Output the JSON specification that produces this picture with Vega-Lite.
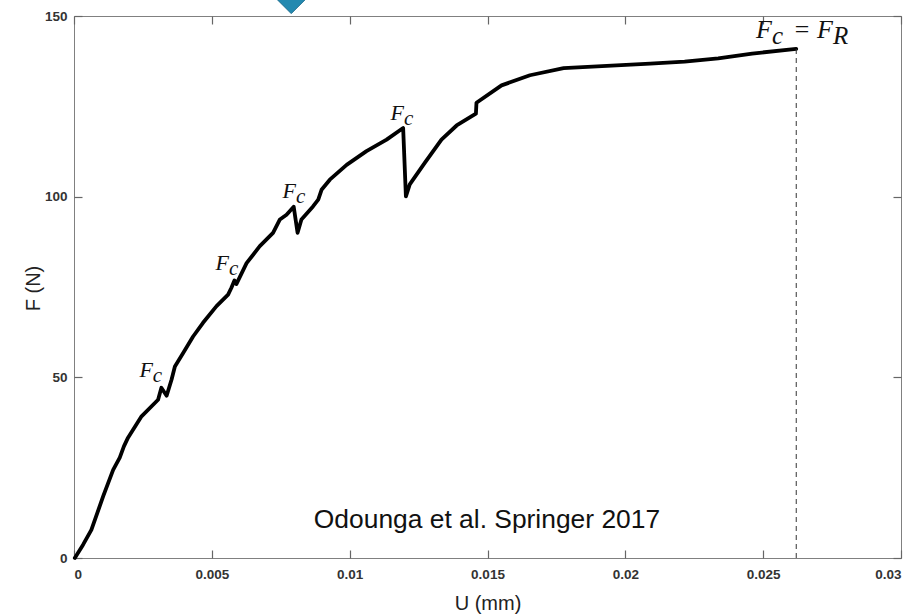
{
  "$schema": "https://vega.github.io/schema/vega-lite/v6.json",
  "width": 827,
  "height": 542,
  "autosize": "none",
  "padding": {"left": 74, "top": 16, "right": 21, "bottom": 57},
  "background": "white",
  "config": {
    "view": {"stroke": "#808080", "strokeWidth": 1},
    "axis": {
      "domainColor": "#808080",
      "tickColor": "#666666",
      "tickWidth": 1.2,
      "tickSize": -8,
      "grid": false,
      "labelFont": "Liberation Sans",
      "labelFontWeight": "bold",
      "labelFontSize": 13.5,
      "labelColor": "#333333",
      "titleFont": "Liberation Sans",
      "titleFontWeight": "normal",
      "titleFontSize": 20,
      "titleColor": "#222222"
    }
  },
  "datasets": {
    "curve": [
      {"u": 0.00003, "f": 0},
      {"u": 0.00033, "f": 3.7},
      {"u": 0.00063, "f": 7.8},
      {"u": 0.00106, "f": 17.1},
      {"u": 0.00142, "f": 24.4},
      {"u": 0.00166, "f": 27.8},
      {"u": 0.00181, "f": 30.9},
      {"u": 0.00196, "f": 33.3},
      {"u": 0.00245, "f": 39.2},
      {"u": 0.00305, "f": 43.8},
      {"u": 0.00317, "f": 47.1},
      {"u": 0.00336, "f": 44.9},
      {"u": 0.00354, "f": 49.4},
      {"u": 0.00366, "f": 53.0},
      {"u": 0.00396, "f": 56.7},
      {"u": 0.00432, "f": 61.3},
      {"u": 0.00468, "f": 65.1},
      {"u": 0.00517, "f": 69.7},
      {"u": 0.00559, "f": 72.9},
      {"u": 0.00571, "f": 74.8},
      {"u": 0.00582, "f": 76.8},
      {"u": 0.00589, "f": 75.8},
      {"u": 0.00626, "f": 81.6},
      {"u": 0.00674, "f": 86.3},
      {"u": 0.00722, "f": 90.0},
      {"u": 0.00747, "f": 93.7},
      {"u": 0.00771, "f": 95.0},
      {"u": 0.00797, "f": 97.2},
      {"u": 0.00811, "f": 90.0},
      {"u": 0.00825, "f": 93.7},
      {"u": 0.00867, "f": 97.3},
      {"u": 0.00886, "f": 99.2},
      {"u": 0.00898, "f": 101.9},
      {"u": 0.00928, "f": 104.7},
      {"u": 0.00989, "f": 108.8},
      {"u": 0.01061, "f": 112.6},
      {"u": 0.01134, "f": 115.8},
      {"u": 0.01194, "f": 119.0},
      {"u": 0.01204, "f": 100.1},
      {"u": 0.01218, "f": 103.4},
      {"u": 0.01273, "f": 109.4},
      {"u": 0.01333, "f": 115.8},
      {"u": 0.01388, "f": 119.7},
      {"u": 0.01458, "f": 123.0},
      {"u": 0.0146, "f": 126.0},
      {"u": 0.01551, "f": 130.8},
      {"u": 0.01654, "f": 133.6},
      {"u": 0.01776, "f": 135.6},
      {"u": 0.0209, "f": 136.8},
      {"u": 0.02215, "f": 137.4},
      {"u": 0.02337, "f": 138.3},
      {"u": 0.0246, "f": 139.6},
      {"u": 0.0262, "f": 140.9}
    ],
    "rupture": [{"u": 0.0262, "f0": 0, "f1": 140.9}],
    "fc": [
      {"u": 0.00286, "f": 50.2, "m": "F", "s": "c"},
      {"u": 0.00562, "f": 79.8, "m": "F", "s": "c"},
      {"u": 0.00805, "f": 99.7, "m": "F", "s": "c"},
      {"u": 0.01197, "f": 121.3, "m": "F", "s": "c"}
    ],
    "fr": [
      {"u": 0.02532, "f": 144.0, "m": "F", "s": "c"},
      {"u": 0.02753, "f": 144.0, "m": "= F", "s": "R"}
    ],
    "credit": [{"u": 0.01498, "f": 8.4, "t": "Odounga et al. Springer 2017"}],
    "marker": [{"u": 0.00788, "f": 156.2}]
  },
  "layer": [
    {
      "data": {"name": "curve"},
      "mark": {"type": "line", "color": "black", "strokeWidth": 3.8, "strokeJoin": "round", "strokeCap": "round"},
      "encoding": {
        "x": {
          "field": "u", "type": "quantitative",
          "scale": {"domain": [0, 0.03], "nice": false, "zero": false},
          "axis": {"orient": "bottom", "values": [0, 0.005, 0.01, 0.015, 0.02, 0.025, 0.03], "format": "~g", "domain": false, "ticks": false, "labelPadding": 9, "title": "U (mm)", "titleBaseline": "middle", "titleY": 45}
        },
        "y": {
          "field": "f", "type": "quantitative",
          "scale": {"domain": [0, 150], "nice": false},
          "axis": {"orient": "left", "values": [0, 50, 100, 150], "format": "d", "domain": false, "ticks": false, "labelPadding": 7, "title": "F (N)", "titleBaseline": "middle", "titleX": -41, "titleY": 272, "titleAngle": -90}
        }
      }
    },
    {
      "data": {"name": "rupture"},
      "mark": {"type": "rule", "color": "#333333", "strokeWidth": 1, "strokeDash": [5, 4]},
      "encoding": {
        "x": {"field": "u", "type": "quantitative", "axis": {"orient": "top", "values": [0, 0.005, 0.01, 0.015, 0.02, 0.025, 0.03], "labels": false, "domain": false, "title": null}},
        "y": {"field": "f0", "type": "quantitative", "axis": {"orient": "right", "values": [0, 50, 100, 150], "labels": false, "domain": false, "title": null}},
        "y2": {"field": "f1"}
      }
    },
    {
      "data": {"name": "fc"},
      "mark": {"type": "text", "font": "Liberation Serif", "fontStyle": "italic", "fontSize": 22, "align": "right", "baseline": "alphabetic", "color": "#111111"},
      "encoding": {
        "x": {"field": "u", "type": "quantitative", "axis": {"orient": "bottom", "values": [0, 0.005, 0.01, 0.015, 0.02, 0.025, 0.03], "labels": false, "domain": false, "title": null}},
        "y": {"field": "f", "type": "quantitative", "axis": {"orient": "left", "values": [0, 50, 100, 150], "labels": false, "domain": false, "title": null}},
        "text": {"field": "m"}
      }
    },
    {
      "data": {"name": "fc"},
      "mark": {"type": "text", "font": "Liberation Serif", "fontStyle": "italic", "fontSize": 21, "align": "left", "baseline": "alphabetic", "dy": 5, "color": "#111111"},
      "encoding": {
        "x": {"field": "u", "type": "quantitative", "axis": null},
        "y": {"field": "f", "type": "quantitative", "axis": null},
        "text": {"field": "s"}
      }
    },
    {
      "data": {"name": "fr"},
      "mark": {"type": "text", "font": "Liberation Serif", "fontStyle": "italic", "fontSize": 26, "align": "right", "baseline": "alphabetic", "color": "#111111"},
      "encoding": {
        "x": {"field": "u", "type": "quantitative", "axis": null},
        "y": {"field": "f", "type": "quantitative", "axis": null},
        "text": {"field": "m"}
      }
    },
    {
      "data": {"name": "fr"},
      "mark": {"type": "text", "font": "Liberation Serif", "fontStyle": "italic", "fontSize": 25, "align": "left", "baseline": "alphabetic", "dy": 6, "color": "#111111"},
      "encoding": {
        "x": {"field": "u", "type": "quantitative", "axis": null},
        "y": {"field": "f", "type": "quantitative", "axis": null},
        "text": {"field": "s"}
      }
    },
    {
      "data": {"name": "credit"},
      "mark": {"type": "text", "font": "Liberation Sans", "fontSize": 26.4, "align": "center", "baseline": "alphabetic", "color": "#111111"},
      "encoding": {
        "x": {"field": "u", "type": "quantitative", "axis": null},
        "y": {"field": "f", "type": "quantitative", "axis": null},
        "text": {"field": "t"}
      }
    },
    {
      "data": {"name": "marker"},
      "mark": {"type": "point", "shape": "diamond", "filled": true, "size": 1600, "color": "#2389b0", "opacity": 1, "stroke": "#1a6c8e", "strokeWidth": 1, "clip": false},
      "encoding": {
        "x": {"field": "u", "type": "quantitative", "axis": null},
        "y": {"field": "f", "type": "quantitative", "axis": null}
      }
    }
  ],
  "resolve": {"axis": {"x": "independent", "y": "independent"}}
}
